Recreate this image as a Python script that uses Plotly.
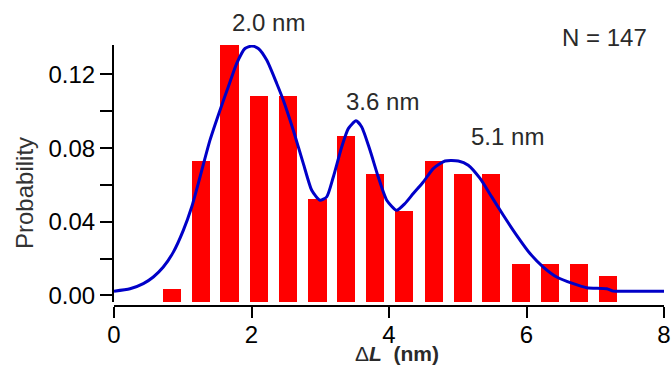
import plotly.graph_objects as go

# Histogram bins (nm) and probabilities
bin_centers = [0.84, 1.26, 1.68, 2.11, 2.53, 2.96, 3.38, 3.80,
               4.22, 4.65, 5.07, 5.49, 5.92, 6.34, 6.76, 7.19]
probabilities = [0.0033, 0.0729, 0.1359, 0.1082, 0.1082, 0.0522, 0.0866, 0.0662,
                 0.0457, 0.0729, 0.0662, 0.0662, 0.0169, 0.0169, 0.0169, 0.0103]

# Fitted density curve
curve_x = [0.0, 0.233, 0.426, 0.572, 0.717, 0.863, 1.008, 1.130, 1.251, 1.396,
           1.542, 1.663, 1.785, 1.905, 2.003, 2.099, 2.221, 2.367, 2.463, 2.608,
           2.754, 2.876, 2.996, 3.094, 3.190, 3.312, 3.408, 3.520, 3.603, 3.724,
           3.844, 3.967, 4.112, 4.233, 4.353, 4.499, 4.644, 4.815, 5.008, 5.153,
           5.324, 5.494, 5.663, 5.857, 6.051, 6.244, 6.439, 6.681, 6.876, 7.167,
           7.263, 7.554, 8.0]
curve_y = [0.0023, 0.0036, 0.0064, 0.0100, 0.0154, 0.0235, 0.0353, 0.0480, 0.0643, 0.0843,
           0.1006, 0.1133, 0.1260, 0.1341, 0.1354, 0.1341, 0.1278, 0.1151, 0.1060, 0.0897,
           0.0716, 0.0571, 0.0517, 0.0535, 0.0643, 0.0806, 0.0906, 0.0948, 0.0915, 0.0788,
           0.0643, 0.0517, 0.0462, 0.0499, 0.0553, 0.0616, 0.0689, 0.0730, 0.0730, 0.0707,
           0.0635, 0.0535, 0.0435, 0.0326, 0.0227, 0.0154, 0.0100, 0.0064, 0.0042, 0.0036,
           0.0023, 0.0023, 0.0023]

x_ticks = [0, 2, 4, 6, 8]
y_ticks = [0.00, 0.04, 0.08, 0.12]
y_tick_labels = ["0.00", "0.04", "0.08", "0.12"]
y_minor_ticks = [0.02, 0.06, 0.10]

peak_labels = ["2.0 nm", "3.6 nm", "5.1 nm"]
count_label = "N = 147"

Y_MIN = -0.0036
Y_MAX = 0.1360
FONT = "Liberation Sans, Arial, Helvetica, sans-serif"

fig = go.Figure()
fig.add_trace(go.Bar(
    x=bin_centers,
    y=[p - Y_MIN for p in probabilities],
    base=Y_MIN,
    width=0.262,
    marker=dict(color="#FF0000", line=dict(width=0)),
    showlegend=False,
))
fig.add_trace(go.Scatter(
    x=curve_x, y=curve_y, mode="lines",
    line=dict(color="#0000C8", width=3, shape="spline", smoothing=0.6),
    showlegend=False,
))

fig.update_layout(
    width=672, height=366,
    margin=dict(l=114, r=8, t=45, b=60, autoexpand=False),
    paper_bgcolor="white", plot_bgcolor="white",
    font=dict(family=FONT, size=24, color="black"),
    bargap=0,
)
fig.update_xaxes(
    range=[0, 8], anchor="free", position=0, automargin=False,
    showline=True, linecolor="black", linewidth=2,
    ticks="outside", ticklen=11, tickwidth=2, tickcolor="black",
    tickvals=x_ticks, showgrid=False, zeroline=False,
    ticklabelstandoff=-4,
    tickfont=dict(size=24, family=FONT, color="black"),
)
fig.update_yaxes(
    range=[Y_MIN, Y_MAX], domain=[0.0153, 1], automargin=False,
    showline=True, linecolor="black", linewidth=2,
    ticks="outside", ticklen=12, tickwidth=2, tickcolor="black",
    tickvals=y_ticks, ticktext=y_tick_labels,
    minor=dict(tickvals=y_minor_ticks, ticks="outside", ticklen=12,
               tickwidth=2, tickcolor="black", showgrid=False),
    showgrid=False, zeroline=False,
    tickfont=dict(size=24, family=FONT, color="black"),
)

ann_color = "#2a2a2a"
positions = [(0.2805, 1.086), (0.489, 0.785), (0.7155, 0.651)]
for txt, (px, py) in zip(peak_labels, positions):
    fig.add_annotation(text=txt, x=px, y=py, xref="paper", yref="paper",
                       showarrow=False, xanchor="center", yanchor="middle",
                       font=dict(size=24, family=FONT, color=ann_color))
fig.add_annotation(text=count_label, x=0.8927, y=1.027, xref="paper", yref="paper",
                   showarrow=False, xanchor="center", yanchor="middle",
                   font=dict(size=24, family=FONT, color=ann_color))
fig.add_annotation(text="Δ<b><i>L</i></b>  <b>(nm)</b>", x=0.514, y=-0.2299,
                   xref="paper", yref="paper", showarrow=False,
                   xanchor="center", yanchor="bottom", borderpad=0,
                   font=dict(size=21, family=FONT, color=ann_color))
fig.add_annotation(text="Probability", x=-0.1618, y=0.433, xref="paper", yref="paper",
                   showarrow=False, xanchor="center", yanchor="middle", textangle=-90,
                   font=dict(size=24, family=FONT, color="#333333"))

fig.write_html("out.html")
